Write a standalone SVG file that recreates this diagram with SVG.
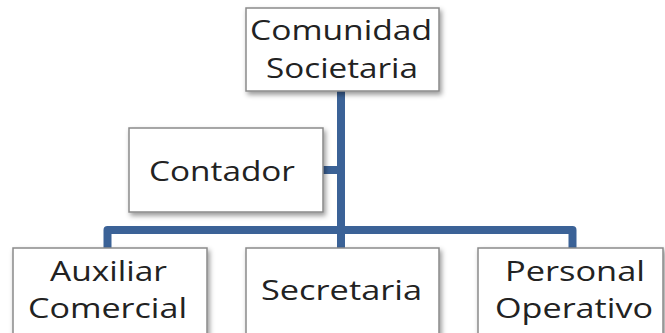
<svg xmlns="http://www.w3.org/2000/svg" width="665" height="333" viewBox="0 0 665 333">
<style>
.box{fill:#fff;stroke:#8a8a8a;stroke-width:1.5;filter:url(#sh)}
.t{font-family:"Open Sans","Liberation Sans",sans-serif;font-size:27px;fill:#222;text-anchor:middle}
.c{fill:none;stroke:#3b6297;stroke-width:8;stroke-linejoin:round;stroke-linecap:butt}
</style>
<defs>
<filter id="sh" x="-10%" y="-10%" width="130%" height="140%">
<feDropShadow dx="2" dy="3" stdDeviation="2.5" flood-color="#000" flood-opacity="0.4"/>
</filter>
</defs>
<rect width="665" height="333" fill="#fff"/>
<g id="connectors">
<path class="c" d="M341 91 V248"/>
<path class="c" d="M323 170 H341"/>
<path class="c" d="M107.5 248 V230 H572.5 V248"/>
</g>
<g id="comunidad">
<rect class="box" x="246" y="8" width="193" height="83"/>
<text class="t" x="341" y="40" textLength="182" lengthAdjust="spacingAndGlyphs">Comunidad</text>
<text class="t" x="342" y="78" textLength="152" lengthAdjust="spacingAndGlyphs">Societaria</text>
</g>
<g id="contador">
<rect class="box" x="129" y="128" width="194" height="84"/>
<text class="t" x="222" y="181" textLength="146" lengthAdjust="spacingAndGlyphs">Contador</text>
</g>
<g id="auxiliar">
<rect class="box" x="13" y="248" width="194" height="92"/>
<text class="t" x="108.5" y="281" textLength="117" lengthAdjust="spacingAndGlyphs">Auxiliar</text>
<text class="t" x="107.5" y="318" textLength="159" lengthAdjust="spacingAndGlyphs">Comercial</text>
</g>
<g id="secretaria">
<rect class="box" x="246" y="248" width="193" height="92"/>
<text class="t" x="341.5" y="300" textLength="161" lengthAdjust="spacingAndGlyphs">Secretaria</text>
</g>
<g id="personal">
<rect class="box" x="478" y="248" width="185" height="92"/>
<text class="t" x="575" y="281" textLength="140" lengthAdjust="spacingAndGlyphs">Personal</text>
<text class="t" x="574" y="318" textLength="158" lengthAdjust="spacingAndGlyphs">Operativo</text>
</g>
</svg>
